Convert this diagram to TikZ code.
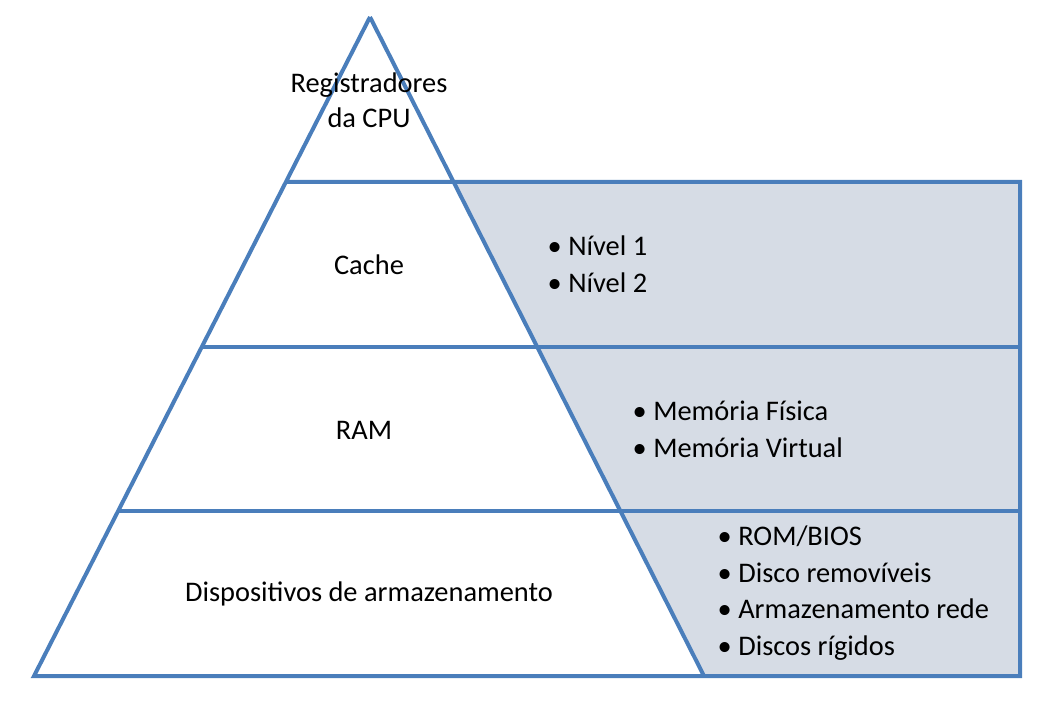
\documentclass[tikz,border=0pt]{standalone}
\usepackage{fontspec}
\setmainfont{Carlito}
\usetikzlibrary{calc}
\definecolor{edgeblue}{HTML}{4A7EBB}
\definecolor{panelfill}{HTML}{D6DCE5}

\begin{document}
\begin{tikzpicture}
    [x=0.75pt, y=-0.75pt,
     edge/.style={draw=edgeblue, line width=3pt, line join=miter},
     lvl/.style={align=center, font=\fontsize{21.3pt}{26.3pt}\selectfont},
     lst/.style={anchor=west, align=left, font=\fontsize{21.3pt}{27.5pt}\selectfont}]

    \useasboundingbox (0,0) rectangle (1055,701);

    \coordinate (apex) at (370,17);
    \coordinate (bl) at (34,676);
    \coordinate (br) at (704,676);
    \coordinate (l1) at ($(apex)!0.25!(bl)$);
    \coordinate (r1) at ($(apex)!0.25!(br)$);
    \coordinate (l2) at ($(apex)!0.5!(bl)$);
    \coordinate (r2) at ($(apex)!0.5!(br)$);
    \coordinate (l3) at ($(apex)!0.75!(bl)$);
    \coordinate (r3) at ($(apex)!0.75!(br)$);
    \coordinate (e1) at (1020,0 |- r1);
    \coordinate (e2) at (1020,0 |- r2);
    \coordinate (e3) at (1020,0 |- r3);
    \coordinate (e4) at (1020,676);

    % shaded side panel
    \fill [panelfill] (r1) -- (e1) -- (e4) -- (br) -- cycle;

    % pyramid and levels
    \draw [edge] (apex) -- (bl) -- (e4) -- (e1) -- (l1);
    \draw [edge] (apex) -- (br);
    \draw [edge] (l2) -- (e2);
    \draw [edge] (l3) -- (e3);

    \node [lvl] (cpu) at (369,100) {Registradores\\da CPU};
    \node [lvl] (cache) at (369,265) {Cache};
    \node [lvl] (ram) at (364,430) {RAM};
    \node [lvl] (disp) at (369,594) {Dispositivos de armazenamento};

    \node [lst] (cachelist) at (543,264) {\textbullet\ Nível 1\\\textbullet\ Nível 2};
    \node [lst] (ramlist) at (628,429) {\textbullet\ Memória Física\\\textbullet\ Memória Virtual};
    \node [lst] (displist) at (713,593) {\textbullet\ ROM/BIOS\\\textbullet\ Disco removíveis\\\textbullet\ Armazenamento rede\\\textbullet\ Discos rígidos};
\end{tikzpicture}
\end{document}
